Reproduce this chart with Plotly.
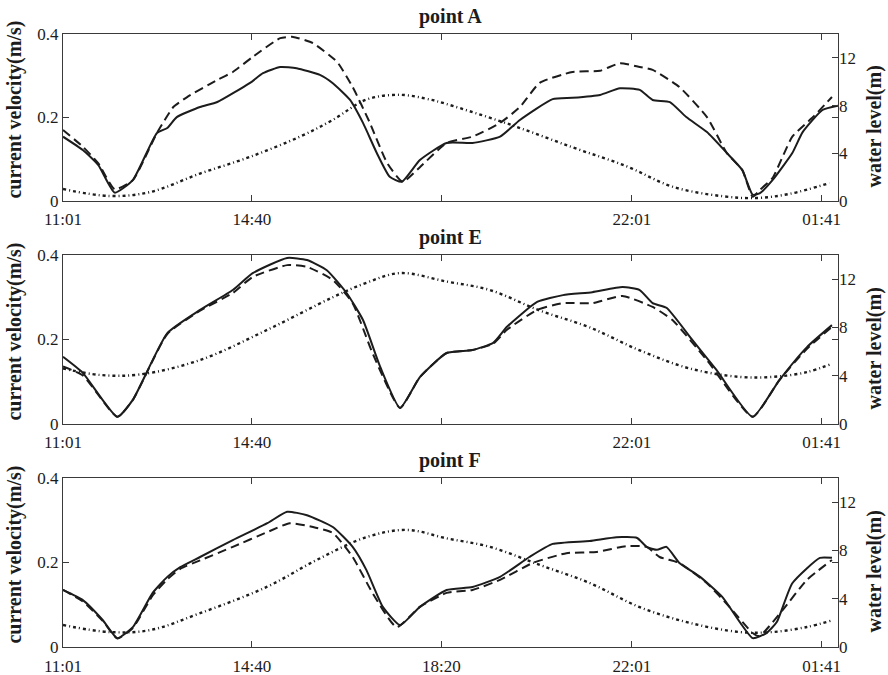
import plotly.graph_objects as go

# ---- time axis: minutes elapsed since 11:01 ----
tick_minutes = [0, 219, 439, 660, 880]
tick_labels_full = ["11:01", "14:40", "18:20", "22:01", "01:41"]
tick_labels_upper = ["11:01", "14:40", "", "22:01", "01:41"]

# ---- point A ----
a_solid_t = [0, 23, 41, 60, 81, 109, 121, 132, 159, 179, 217, 232, 252, 271, 298, 313,
             333, 348, 364, 379, 393, 414, 445, 475, 507, 530, 568, 591, 623, 646, 669,
             684, 704, 723, 747, 770, 788, 800, 808, 823, 846, 858, 881, 899]
a_solid_v = [0.154, 0.122, 0.086, 0.020, 0.050, 0.163, 0.175, 0.201, 0.225, 0.237, 0.283,
             0.306, 0.321, 0.318, 0.302, 0.282, 0.242, 0.187, 0.115, 0.058, 0.046, 0.098,
             0.139, 0.139, 0.154, 0.194, 0.244, 0.247, 0.254, 0.270, 0.266, 0.242, 0.237,
             0.201, 0.165, 0.115, 0.074, 0.015, 0.018, 0.050, 0.115, 0.165, 0.218, 0.228]
a_dash_t = [0, 23, 41, 60, 81, 109, 128, 144, 179, 197, 220, 252, 267, 290, 318, 336, 356,
            376, 394, 414, 445, 475, 507, 530, 553, 591, 623, 646, 669, 684, 715, 747, 770,
            788, 800, 808, 823, 846, 870, 892]
a_dash_v = [0.170, 0.130, 0.090, 0.028, 0.050, 0.163, 0.225, 0.249, 0.290, 0.309, 0.345,
            0.390, 0.393, 0.378, 0.333, 0.273, 0.187, 0.091, 0.046, 0.081, 0.139, 0.154,
            0.187, 0.225, 0.283, 0.309, 0.312, 0.330, 0.321, 0.314, 0.273, 0.201, 0.115,
            0.074, 0.010, 0.026, 0.055, 0.154, 0.201, 0.249]
a_level_t = [0, 54, 101, 159, 217, 275, 313, 352, 391, 426, 437, 515, 591, 654, 707, 765,
             805, 843, 889]
a_level = [1.0, 0.42, 0.75, 2.3, 3.7, 5.4, 6.8, 8.5, 8.9, 8.5, 8.3, 6.5, 4.5, 2.9, 1.2,
           0.4, 0.25, 0.6, 1.5]

# ---- point E ----
e_solid_t = [0, 23, 63, 81, 121, 159, 197, 220, 260, 283, 306, 329, 348, 368, 391, 414,
             445, 475, 499, 515, 550, 580, 614, 649, 669, 684, 700, 730, 758, 800, 831,
             863, 892]
e_solid_v = [0.159, 0.121, 0.017, 0.057, 0.215, 0.270, 0.317, 0.357, 0.393, 0.388, 0.364,
             0.310, 0.246, 0.135, 0.038, 0.111, 0.168, 0.175, 0.192, 0.230, 0.289, 0.305,
             0.312, 0.324, 0.317, 0.286, 0.275, 0.199, 0.128, 0.017, 0.104, 0.182, 0.234]
e_dash_t = [0, 23, 63, 81, 121, 159, 197, 220, 260, 283, 313, 336, 359, 391, 414, 445,
            475, 499, 515, 550, 580, 614, 649, 684, 707, 747, 800, 831, 863, 892]
e_dash_v = [0.136, 0.115, 0.017, 0.057, 0.213, 0.268, 0.310, 0.348, 0.376, 0.372, 0.341,
            0.286, 0.168, 0.038, 0.111, 0.168, 0.175, 0.190, 0.223, 0.270, 0.286, 0.286,
            0.303, 0.277, 0.246, 0.151, 0.017, 0.104, 0.178, 0.230]
e_level_t = [0, 43, 89, 159, 237, 313, 352, 391, 445, 495, 553, 611, 669, 727, 785, 823,
             863, 892]
e_level = [4.6, 4.06, 4.1, 5.3, 7.8, 10.5, 11.7, 12.5, 11.8, 11.1, 9.4, 8.0, 6.1, 4.6,
           3.9, 3.9, 4.3, 5.0]

# ---- point F ----
f_solid_t = [0, 23, 46, 63, 81, 104, 121, 136, 159, 197, 237, 260, 283, 313, 336, 352,
             371, 391, 414, 445, 475, 507, 541, 568, 611, 642, 666, 677, 689, 700, 715,
             739, 765, 800, 816, 828, 846, 878, 892]
f_solid_v = [0.135, 0.111, 0.064, 0.021, 0.047, 0.128, 0.166, 0.189, 0.213, 0.253, 0.293,
             0.320, 0.312, 0.284, 0.237, 0.182, 0.095, 0.052, 0.095, 0.135, 0.142, 0.166,
             0.213, 0.244, 0.251, 0.260, 0.258, 0.237, 0.230, 0.237, 0.199, 0.166, 0.118,
             0.021, 0.033, 0.059, 0.151, 0.211, 0.211]
f_dash_t = [0, 23, 46, 63, 81, 104, 121, 136, 159, 197, 237, 263, 290, 313, 336, 359, 387,
            414, 445, 475, 507, 545, 584, 619, 654, 677, 692, 715, 747, 773, 800, 808, 835,
            863, 892]
f_dash_v = [0.135, 0.108, 0.062, 0.020, 0.045, 0.122, 0.160, 0.185, 0.205, 0.237, 0.272,
            0.293, 0.284, 0.270, 0.213, 0.128, 0.047, 0.095, 0.128, 0.135, 0.159, 0.199,
            0.222, 0.225, 0.239, 0.237, 0.213, 0.199, 0.151, 0.095, 0.033, 0.026, 0.088,
            0.159, 0.206]
f_level_t = [0, 54, 101, 159, 237, 294, 352, 399, 445, 495, 553, 611, 669, 727, 785, 823,
             863, 892]
f_level = [1.82, 1.24, 1.4, 2.8, 5.0, 7.2, 9.1, 9.7, 9.0, 8.3, 6.8, 5.3, 3.3, 2.0, 1.24,
           1.24, 1.66, 2.2]

panels = [
    ("point A", a_solid_t, a_solid_v, a_dash_t, a_dash_v, a_level_t, a_level, tick_labels_upper),
    ("point E", e_solid_t, e_solid_v, e_dash_t, e_dash_v, e_level_t, e_level, tick_labels_upper),
    ("point F", f_solid_t, f_solid_v, f_dash_t, f_dash_v, f_level_t, f_level, tick_labels_full),
]

# vertical extents of the three panels (paper fraction)
domains = [[0.7276, 1.0], [0.3638, 0.6395], [0.0, 0.2757]]

INK = "#1c1c1c"
AXIS = "#3a3a3a"
SERIF = "Liberation Serif, Times New Roman, serif"
tick_font = dict(family=SERIF, size=17, color=INK)
label_font = dict(family=SERIF, size=20, color=INK)

fig = go.Figure()
layout = dict(
    width=888, height=675,
    margin=dict(l=63, r=50, t=34, b=28, autoexpand=False),
    paper_bgcolor="white", plot_bgcolor="white",
    showlegend=False,
)
annotations = []

for i, (name, st, sv, dt, dv, lt, lv, tlabels) in enumerate(panels):
    n = i + 1
    xa = "x" if n == 1 else f"x{n}"
    yl_id = 2 * n - 1
    yr_id = 2 * n
    yl = "y" if yl_id == 1 else f"y{yl_id}"
    yr = f"y{yr_id}"

    fig.add_trace(go.Scatter(x=st, y=sv, xaxis=xa, yaxis=yl, mode="lines",
                             line=dict(color=INK, width=2, shape="spline", smoothing=0.5)))
    fig.add_trace(go.Scatter(x=dt, y=dv, xaxis=xa, yaxis=yl, mode="lines",
                             line=dict(color=INK, width=2, dash="9px,5px",
                                       shape="spline", smoothing=0.5)))
    fig.add_trace(go.Scatter(x=lt, y=lv, xaxis=xa, yaxis=yr, mode="lines",
                             line=dict(color=INK, width=2.4, dash="3px,3px,1px,3px",
                                       shape="spline", smoothing=1.0)))

    xkey = "xaxis" if n == 1 else f"xaxis{n}"
    ylkey = "yaxis" if yl_id == 1 else f"yaxis{yl_id}"
    yrkey = f"yaxis{yr_id}"

    layout[xkey] = dict(
        domain=[0, 1], anchor=yl, range=[0, 899], automargin=False,
        tickmode="array", tickvals=tick_minutes, ticktext=tlabels,
        ticks="inside", ticklen=6, tickcolor=AXIS, mirror="ticks",
        showline=True, linecolor=AXIS, linewidth=1.2,
        showgrid=False, zeroline=False, tickfont=tick_font,
        ticklabelstandoff=3,
    )
    layout[ylkey] = dict(
        domain=domains[i], anchor=xa, range=[0, 0.4], automargin=False,
        tickmode="array", tickvals=[0, 0.2, 0.4], ticktext=["0", "0.2", "0.4"],
        ticks="inside", ticklen=6, tickcolor=AXIS, mirror="ticks",
        showline=True, linecolor=AXIS, linewidth=1.2,
        showgrid=False, zeroline=False, tickfont=tick_font,
    )
    layout[yrkey] = dict(
        overlaying=yl, side="right", anchor=xa, range=[0, 14], automargin=False,
        tickmode="array", tickvals=[0, 4, 8, 12], ticktext=["0", "4", "8", "12"],
        ticks="inside", ticklen=6, tickcolor=AXIS,
        showline=False, showgrid=False, zeroline=False, tickfont=tick_font,
    )

    top = domains[i][1]
    mid = sum(domains[i]) / 2
    annotations.append(dict(text=f"<b>{name}</b>", xref="paper", yref="paper",
                            x=0.4994, y=top, xanchor="center", yanchor="bottom",
                            yshift=4, showarrow=False,
                            font=dict(family=SERIF, size=20, color=INK)))
    annotations.append(dict(text="<b>current velocity(m/s)</b>", xref="paper", yref="paper",
                            x=-0.0632, y=mid, xanchor="center", yanchor="middle",
                            yshift=8, textangle=-90, showarrow=False, font=label_font))
    annotations.append(dict(text="<b>water level(m)</b>", xref="paper", yref="paper",
                            x=1.0465, y=mid, xanchor="center", yanchor="middle",
                            yshift=-9, textangle=-90, showarrow=False, font=label_font))

layout["annotations"] = annotations
fig.update_layout(**layout)
fig.write_html("out.html")
